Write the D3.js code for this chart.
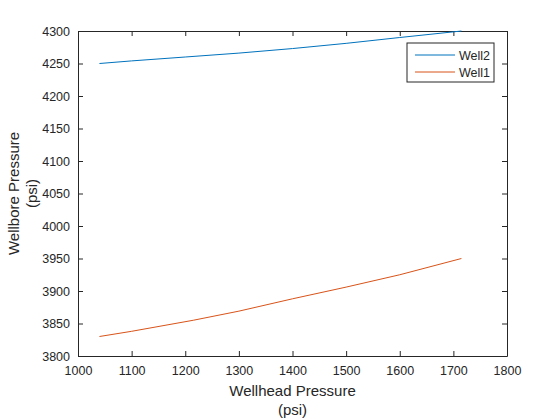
<!DOCTYPE html>
<html lang="en">
<head>
<meta charset="UTF-8">
<title>Wellbore vs Wellhead Pressure</title>
<script src="https://d3js.org/d3.v7.min.js"></script>
<style>
  body { margin: 0; background: #fff; font-family: Arial, "Liberation Sans", sans-serif; }
</style>
</head>
<body>
<div id="chart"></div>
<script>
// data
const well2X = [1040, 1100, 1200, 1300, 1400, 1500, 1600, 1715];
const well2Y = [4250, 4254, 4260, 4266, 4273, 4281, 4290, 4300];
const well1X = [1040, 1100, 1215, 1300, 1400, 1500, 1600, 1715];
const well1Y = [3830, 3838, 3855, 3869, 3888, 3906, 3925, 3950];
const xTicks = [1000, 1100, 1200, 1300, 1400, 1500, 1600, 1700, 1800];
const yTicks = [3800, 3850, 3900, 3950, 4000, 4050, 4100, 4150, 4200, 4250, 4300];
const seriesNames = ["Well2", "Well1"];
const seriesColors = ["#0072BD", "#D95319"];

const width = 560, height = 420;
const margin = { left: 78, right: 53, top: 31, bottom: 64 };
const axisColor = "#262626";
const fontFamily = "Arial, 'Liberation Sans', sans-serif";

const svg = d3.select("#chart").append("svg")
  .attr("width", width).attr("height", height);

const x = d3.scaleLinear().domain([1000, 1800]).range([margin.left, width - margin.right]);
const y = d3.scaleLinear().domain([3800, 4300]).range([height - margin.bottom, margin.top]);

const tickLen = 5;
function styleAxis(g) {
  g.select(".domain").attr("stroke", axisColor);
  g.selectAll(".tick line").attr("stroke", axisColor);
  g.selectAll(".tick text").attr("fill", axisColor)
    .style("font-size", "12.5px").style("font-family", fontFamily);
}

// bottom / left axes with inward ticks
svg.append("g")
  .attr("transform", `translate(0,${y(3800)})`)
  .call(d3.axisBottom(x).tickValues(xTicks).tickFormat(d3.format("d"))
    .tickSizeInner(-tickLen).tickSizeOuter(0).tickPadding(10))
  .call(styleAxis);

svg.append("g")
  .attr("transform", `translate(${x(1000)},0)`)
  .call(d3.axisLeft(y).tickValues(yTicks).tickFormat(d3.format("d"))
    .tickSizeInner(-tickLen).tickSizeOuter(0).tickPadding(8))
  .call(styleAxis);

// top / right box with ticks
svg.append("g")
  .attr("transform", `translate(0,${y(4300)})`)
  .call(d3.axisTop(x).tickValues(xTicks).tickSizeInner(-tickLen).tickSizeOuter(0).tickFormat(""))
  .call(styleAxis);

svg.append("g")
  .attr("transform", `translate(${x(1800)},0)`)
  .call(d3.axisRight(y).tickValues(yTicks).tickSizeInner(-tickLen).tickSizeOuter(0).tickFormat(""))
  .call(styleAxis);

// lines
const series = [
  { name: seriesNames[0], xs: well2X, ys: well2Y, color: seriesColors[0] },
  { name: seriesNames[1], xs: well1X, ys: well1Y, color: seriesColors[1] }
];

const line = d3.line().x(d => x(d[0])).y(d => y(d[1]));

svg.selectAll("path.series")
  .data(series)
  .enter().append("path")
  .attr("class", "series")
  .attr("d", d => line(d.xs.map((v, i) => [v, d.ys[i]])))
  .attr("fill", "none")
  .attr("stroke", d => d.color)
  .attr("stroke-width", 1);

// axis labels
const midX = (x(1000) + x(1800)) / 2;
const midY = (y(3800) + y(4300)) / 2;

function label(sel, txt) {
  return sel.append("text")
    .attr("text-anchor", "middle")
    .attr("fill", axisColor)
    .style("font-size", "15px").style("font-family", fontFamily)
    .text(txt);
}

label(svg, "Wellhead Pressure").attr("x", midX).attr("y", 396);
label(svg, "(psi)").attr("x", midX).attr("y", 415);
label(svg, "Wellbore Pressure").attr("transform", `translate(19,${midY}) rotate(-90)`);
label(svg, "(psi)").attr("transform", `translate(37,${midY}) rotate(-90)`);

// legend
const legend = svg.append("g").attr("transform", "translate(407,43)");
legend.append("rect")
  .attr("width", 87).attr("height", 39)
  .attr("fill", "#fff").attr("stroke", axisColor).attr("stroke-width", 1);

const items = legend.selectAll("g.item")
  .data(series)
  .enter().append("g")
  .attr("class", "item")
  .attr("transform", (d, i) => `translate(0,${12 + i * 17})`);

items.append("line")
  .attr("x1", 8).attr("x2", 48)
  .attr("stroke", d => d.color).attr("stroke-width", 1);

items.append("text")
  .attr("x", 52).attr("y", 4.5)
  .attr("fill", axisColor)
  .style("font-size", "12.5px").style("font-family", fontFamily)
  .text(d => d.name);
</script>
</body>
</html>
